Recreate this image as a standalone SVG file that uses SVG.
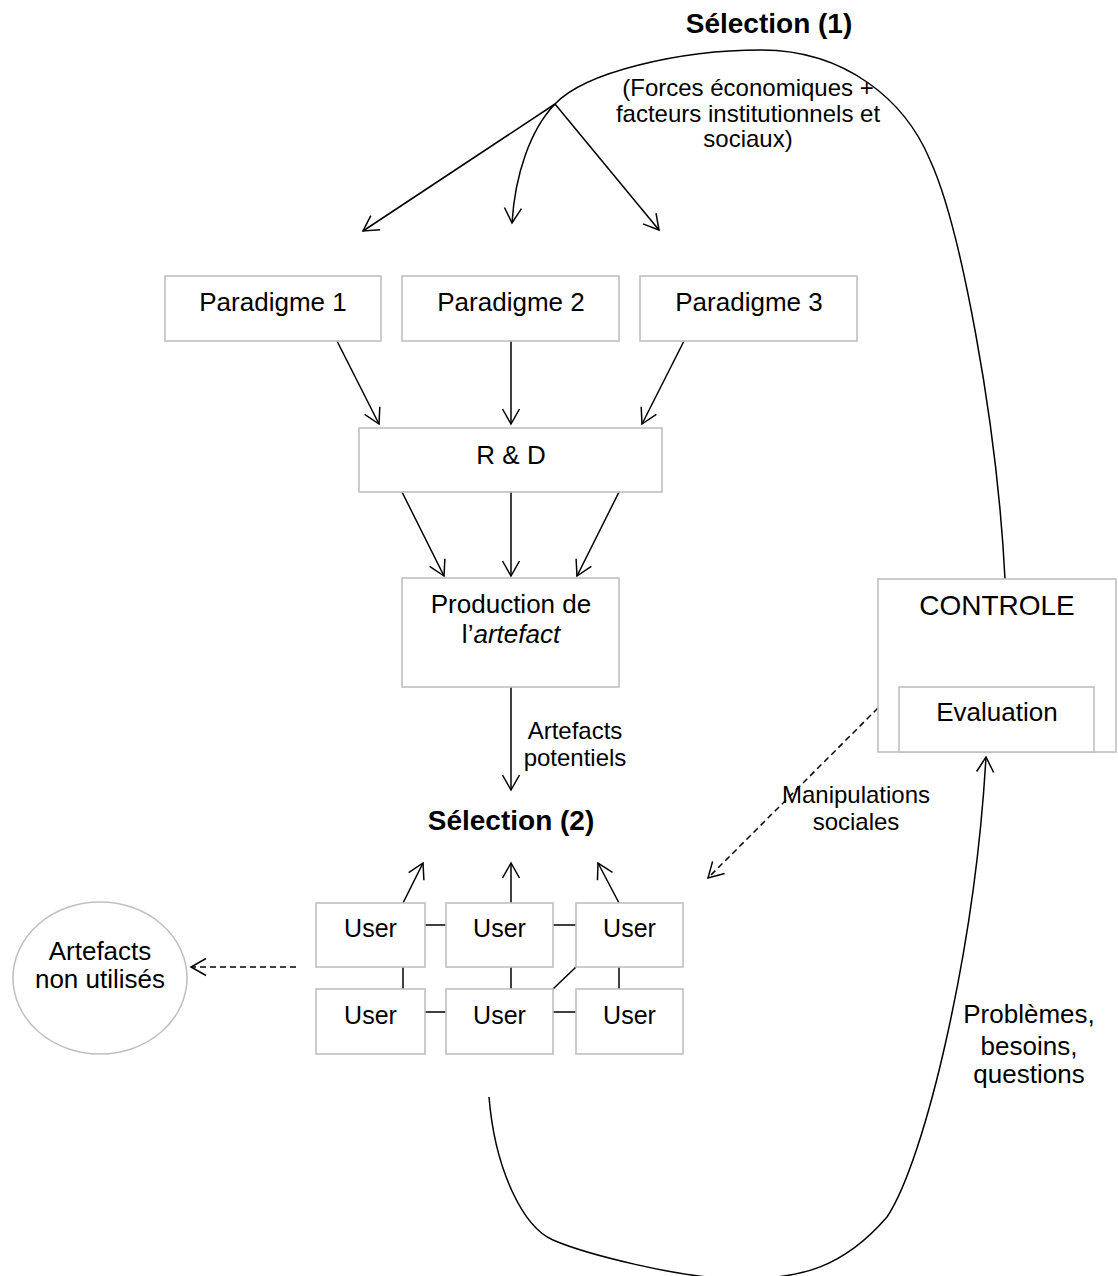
<svg xmlns="http://www.w3.org/2000/svg" width="1118" height="1276" viewBox="0 0 1118 1276">
<style>
.box{fill:#fff;stroke:#c0c0c0;stroke-width:1.6}
.ln{fill:none;stroke:#000;stroke-width:1.5}
.dash{stroke-dasharray:6,4}
text{font-family:"Liberation Sans",Arial,sans-serif;fill:#000;text-anchor:middle}
.t26{font-size:26px}
.t24{font-size:24px}
.t25{font-size:25px}
.b28{font-size:28px;font-weight:bold}
</style>
<defs>
<marker id="arr" markerUnits="userSpaceOnUse" markerWidth="24" markerHeight="24" viewBox="-20 -12 24 24" refX="0" refY="0" orient="auto" overflow="visible">
<path d="M-15,-8.5 L0,0 L-15,8.5" fill="none" stroke="#000" stroke-width="1.5"/>
</marker>
</defs>
<rect width="1118" height="1276" fill="#fff"/>

<g id="connectors">
<path class="ln" d="M555,104 C585,72 680,50 761,50 C845,50 905,100 930,160 C960,225 997,420 1005,579"/>
<line class="ln" x1="555" y1="104" x2="363" y2="231" marker-end="url(#arr)"/>
<path class="ln" d="M555,104 C530,130 515,175 512,223" marker-end="url(#arr)"/>
<line class="ln" x1="555" y1="104" x2="659" y2="230" marker-end="url(#arr)"/>
<line class="ln" x1="337" y1="341" x2="379" y2="424" marker-end="url(#arr)"/>
<line class="ln" x1="511" y1="341" x2="511" y2="424" marker-end="url(#arr)"/>
<line class="ln" x1="684" y1="341" x2="642" y2="424" marker-end="url(#arr)"/>
<line class="ln" x1="402" y1="492" x2="444" y2="576" marker-end="url(#arr)"/>
<line class="ln" x1="511" y1="492" x2="511" y2="576" marker-end="url(#arr)"/>
<line class="ln" x1="619" y1="492" x2="577" y2="576" marker-end="url(#arr)"/>
<line class="ln" x1="511" y1="687" x2="511" y2="790" marker-end="url(#arr)"/>
<line class="ln" x1="403" y1="903" x2="423" y2="863" marker-end="url(#arr)"/>
<line class="ln" x1="511" y1="903" x2="511" y2="863" marker-end="url(#arr)"/>
<line class="ln" x1="619" y1="903" x2="598" y2="863" marker-end="url(#arr)"/>
<line class="ln" x1="425" y1="925" x2="446" y2="925"/>
<line class="ln" x1="553" y1="925" x2="576" y2="925"/>
<line class="ln" x1="425" y1="1012" x2="446" y2="1012"/>
<line class="ln" x1="553" y1="1012" x2="576" y2="1012"/>
<line class="ln" x1="403" y1="967" x2="403" y2="989"/>
<line class="ln" x1="511" y1="967" x2="511" y2="989"/>
<line class="ln" x1="619" y1="967" x2="619" y2="989"/>
<line class="ln" x1="553" y1="989" x2="576" y2="967"/>
<line class="ln dash" x1="296" y1="967" x2="191" y2="967" marker-end="url(#arr)"/>
<line class="ln dash" x1="878" y1="708" x2="708" y2="878" marker-end="url(#arr)"/>
<path class="ln" d="M489,1097 C495,1170 523,1227 553,1240 C583,1253 680,1279 740,1279 C800,1279 843,1268 887,1217 C925,1160 975,950 986,757" marker-end="url(#arr)"/>
</g>

<g id="label-selection1"><text class="b28" x="769" y="33">Sélection (1)</text></g>
<g id="label-forces">
<text class="t24" x="748" y="96">(Forces économiques +</text>
<text class="t24" x="748" y="122">facteurs institutionnels et</text>
<text class="t24" x="748" y="147">sociaux)</text>
</g>

<g id="paradigme1"><rect class="box" x="165" y="276" width="216" height="65"/><text class="t26" x="273" y="311">Paradigme 1</text></g>
<g id="paradigme2"><rect class="box" x="402" y="276" width="217" height="65"/><text class="t26" x="511" y="311">Paradigme 2</text></g>
<g id="paradigme3"><rect class="box" x="640" y="276" width="217" height="65"/><text class="t26" x="749" y="311">Paradigme 3</text></g>

<g id="rd"><rect class="box" x="359" y="428" width="303" height="64"/><text class="t26" x="511" y="464">R &amp; D</text></g>

<g id="production"><rect class="box" x="402" y="578" width="217" height="109"/>
<text class="t26" x="511" y="613">Production de</text>
<text class="t26" x="511" y="643">l’<tspan font-style="italic">artefact</tspan></text></g>

<g id="label-artefacts-potentiels">
<text class="t24" x="575" y="739">Artefacts</text>
<text class="t24" x="575" y="766">potentiels</text>
</g>

<g id="label-selection2"><text class="b28" x="511" y="830">Sélection (2)</text></g>

<g id="controle"><rect class="box" x="878" y="579" width="238" height="173"/>
<text x="997" y="615" style="font-size:28px">CONTROLE</text></g>
<g id="evaluation"><rect class="box" x="899" y="687" width="195" height="65"/>
<text class="t26" x="997" y="721">Evaluation</text></g>

<g id="label-manipulations">
<text class="t24" x="856" y="803">Manipulations</text>
<text class="t24" x="856" y="830">sociales</text>
</g>

<g id="user1"><rect class="box" x="316" y="903" width="109" height="64"/><text class="t25" x="370.5" y="937">User</text></g>
<g id="user2"><rect class="box" x="446" y="903" width="107" height="64"/><text class="t25" x="499.5" y="937">User</text></g>
<g id="user3"><rect class="box" x="576" y="903" width="107" height="64"/><text class="t25" x="629.5" y="937">User</text></g>
<g id="user4"><rect class="box" x="316" y="989" width="109" height="65"/><text class="t25" x="370.5" y="1024">User</text></g>
<g id="user5"><rect class="box" x="446" y="989" width="107" height="65"/><text class="t25" x="499.5" y="1024">User</text></g>
<g id="user6"><rect class="box" x="576" y="989" width="107" height="65"/><text class="t25" x="629.5" y="1024">User</text></g>

<g id="artefacts-non-utilises"><ellipse class="box" cx="100" cy="978" rx="87" ry="76"/>
<text class="t26" x="100" y="960">Artefacts</text>
<text class="t26" x="100" y="988">non utilisés</text></g>

<g id="label-problemes">
<text class="t26" x="1029" y="1023">Problèmes,</text>
<text class="t26" x="1029" y="1055">besoins,</text>
<text class="t26" x="1029" y="1083">questions</text>
</g>
</svg>
